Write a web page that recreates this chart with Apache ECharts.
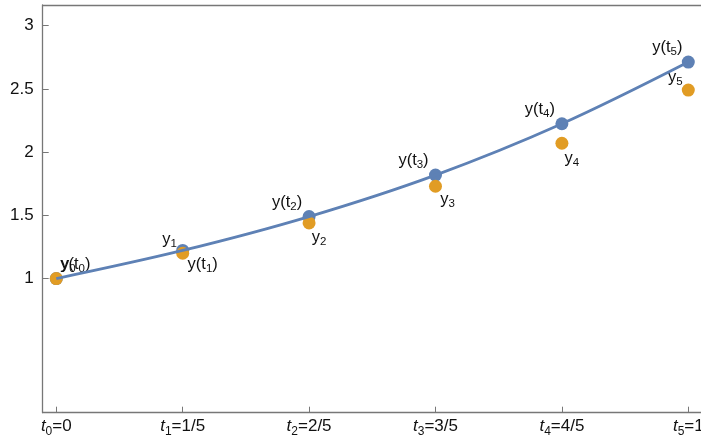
<!DOCTYPE html>
<html>
<head>
<meta charset="utf-8">
<script src="https://cdn.jsdelivr.net/npm/echarts@6/dist/echarts.min.js"></script>
<style>
html,body{margin:0;padding:0;background:#fff;}
#c{width:701px;height:438px;}
</style>
</head>
<body>
<div id="c"></div>
<script>
// Data
var tValues = [0, 0.2, 0.4, 0.6, 0.8, 1.0];
var tTickLabels = ['0', '1/5', '2/5', '3/5', '4/5', '1'];
var exactValues = [1, 1.222, 1.49, 1.818, 2.224, 2.712];
var eulerValues = [1, 1.2, 1.44, 1.73, 2.07, 2.49];
var yTickValues = [1, 1.5, 2, 2.5, 3];
var yTickLabels = ['1', '1.5', '2', '2.5', '3'];

var BLUE = '#5E81B5', ORANGE = '#E19C24', AXIS = '#777777', FONT = 'Liberation Sans, Arial, sans-serif';

// label placements (styling only)
var exactLabelOffsets = [[19, -15], [20, 13], [-22, -15], [-22, -15], [-22, -15], [-21, -15]];
var eulerLabelOffsets = [[12, -15], [-13, -14], [10, 14], [12, 13], [10, 15], [-13, -13]];

var rich = {
  b: {fontSize: 16.5, fontFamily: FONT, color: '#111', lineHeight: 18, verticalAlign: 'bottom'},
  s: {fontSize: 11.5, fontFamily: FONT, color: '#111', lineHeight: 12, verticalAlign: 'bottom', padding: [0, 0, -2, 0]}
};

function exactData() {
  return tValues.map(function (t, i) {
    return {
      value: [t, exactValues[i]],
      label: {show: true, position: 'inside', offset: exactLabelOffsets[i],
        formatter: '{b|y(t}{s|' + i + '}{b|)}', rich: rich}
    };
  });
}
function eulerData() {
  return tValues.map(function (t, i) {
    return {
      value: [t, eulerValues[i]],
      label: {show: true, position: 'inside', offset: eulerLabelOffsets[i],
        formatter: '{b|y}{s|' + i + '}', rich: rich}
    };
  });
}

var chart = echarts.init(document.getElementById('c'), null, {renderer: 'canvas'});
chart.setOption({
  animation: false,
  backgroundColor: '#fff',
  grid: {left: 42.7, right: 0, top: 5, bottom: 25.3, containLabel: false, outerBoundsMode: 'none'},
  xAxis: [{
    type: 'value', min: -0.0215, max: 1.0201, position: 'bottom',
    axisLine: {show: true, onZero: false, lineStyle: {color: AXIS, width: 1.3}},
    splitLine: {show: false},
    axisTick: {show: true, inside: true, length: 6, customValues: tValues, lineStyle: {color: AXIS}},
    axisLabel: {
      show: true, margin: 3, customValues: tValues, hideOverlap: false,
      formatter: function (v) {
        var i = tValues.indexOf(Math.round(v * 10) / 10);
        return '{it|t}{s|' + i + '}{n|=' + tTickLabels[i] + '}';
      },
      rich: {
        it: {fontSize: 17, fontStyle: 'italic', fontFamily: FONT, color: '#111', lineHeight: 19, verticalAlign: 'bottom'},
        n: {fontSize: 17, fontFamily: FONT, color: '#111', lineHeight: 19, verticalAlign: 'bottom'},
        s: {fontSize: 12, fontFamily: FONT, color: '#111', lineHeight: 12, verticalAlign: 'bottom', padding: [0, 0, -3, 0]}
      }
    }
  }, {
    type: 'value', position: 'top', min: -0.0215, max: 1.0201,
    axisLine: {show: true, onZero: false, lineStyle: {color: AXIS, width: 1.3}},
    axisTick: {show: false}, axisLabel: {show: false}, splitLine: {show: false}
  }],
  yAxis: {
    type: 'value', min: -0.0608, max: 3.163,
    axisLine: {show: true, onZero: false, lineStyle: {color: AXIS, width: 1.3}},
    splitLine: {show: false},
    axisTick: {show: true, inside: true, length: 6, customValues: yTickValues, lineStyle: {color: AXIS}},
    axisLabel: {
      show: true, margin: 9, customValues: yTickValues, fontSize: 17, fontFamily: FONT, color: '#111',
      formatter: function (v) { return yTickLabels[yTickValues.indexOf(v)]; }
    }
  },
  series: [{
    type: 'scatter', name: 'exact', z: 2, symbolSize: 13,
    itemStyle: {color: BLUE, opacity: 1},
    data: exactData()
  }, {
    type: 'scatter', name: 'euler', z: 3, symbolSize: 13,
    itemStyle: {color: ORANGE, opacity: 1},
    data: eulerData()
  }, {
    type: 'line', name: 'curve', z: 4, smooth: 0.35, symbol: 'none',
    lineStyle: {color: BLUE, width: 2.8},
    data: tValues.map(function (t, i) { return [t, exactValues[i]]; })
  }]
});
</script>
</body>
</html>
